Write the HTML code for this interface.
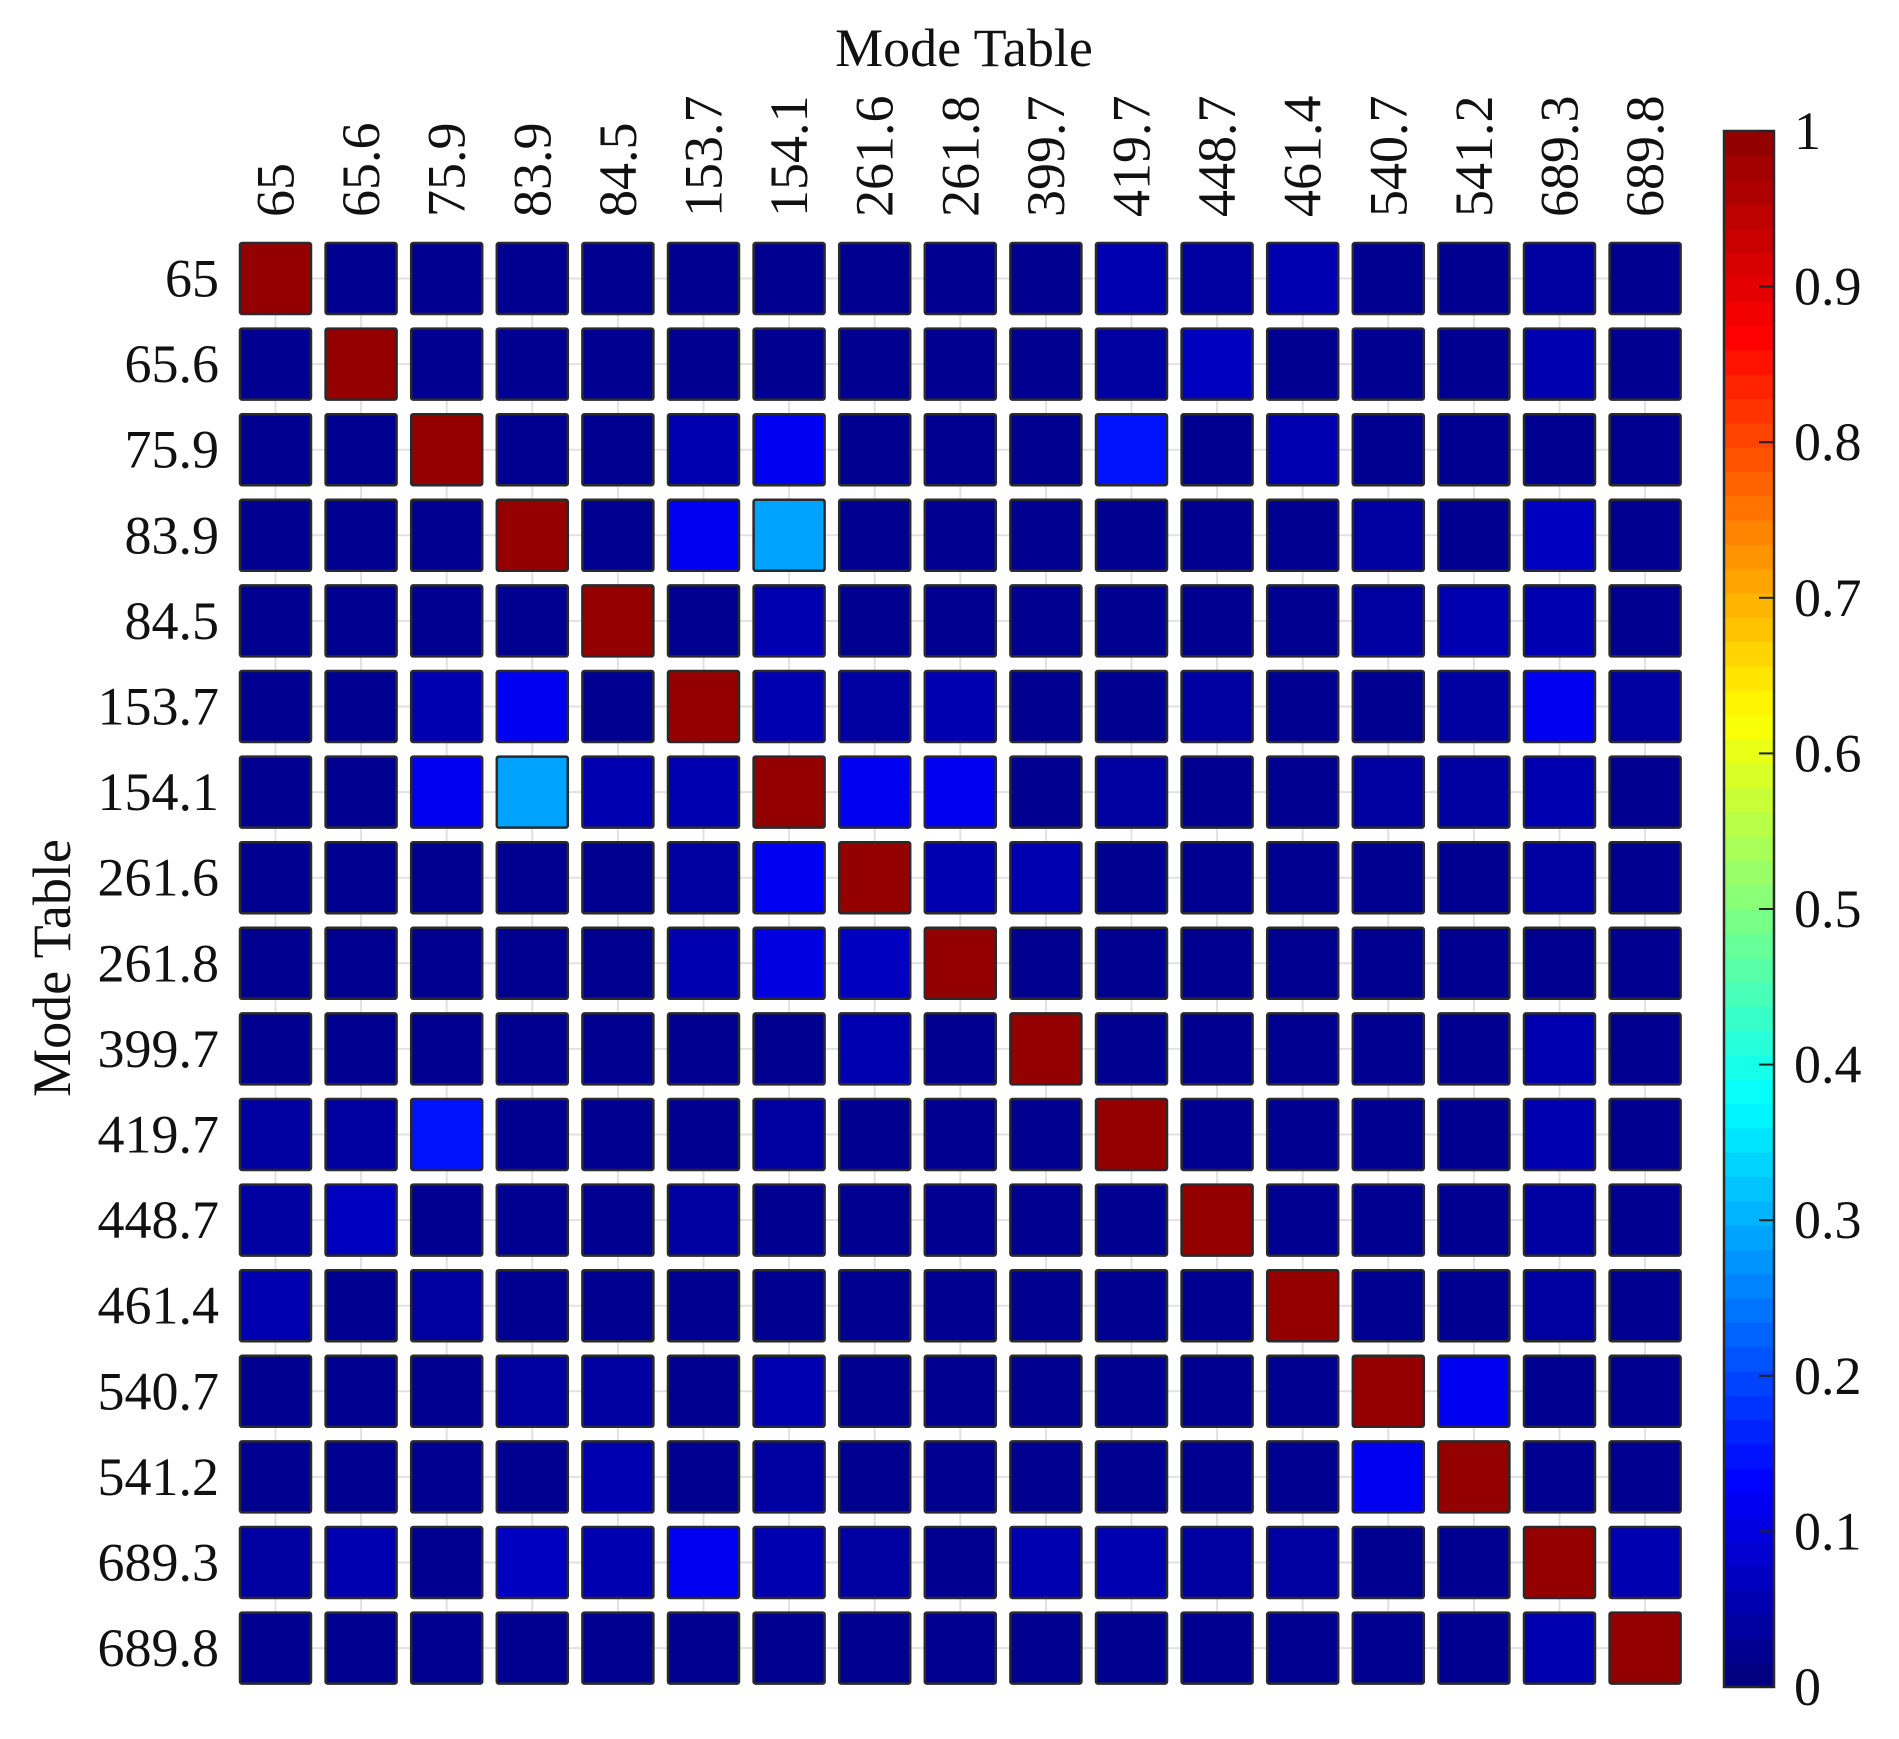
<!DOCTYPE html>
<html><head><meta charset="utf-8"><style>
html,body{margin:0;padding:0;background:#fff;}
svg{display:block;font-family:"Liberation Serif",serif;}
</style></head><body>
<svg id="chart" width="1899" height="1739" viewBox="0 0 1899 1739" xmlns="http://www.w3.org/2000/svg">
<text x="964" y="66" font-size="54" text-anchor="middle" fill="#111">Mode Table</text>
<text x="0" y="0" font-size="54" text-anchor="middle" fill="#111" transform="translate(70,968) rotate(-90)">Mode Table</text>
<g id="grid"></g>
<g id="cells"></g>
<g id="xlabels"></g>
<g id="ylabels"></g>
<g id="cbar"></g>
</svg>
<script>
const categories = ["65","65.6","75.9","83.9","84.5","153.7","154.1","261.6","261.8","399.7","419.7","448.7","461.4","540.7","541.2","689.3","689.8"];
const row0 = [1,.02,.02,.02,.02,.02,.02,.02,.02,.02,.05,.04,.05,.02,.02,.04,.02];
const row1 = [.02,1,.02,.02,.02,.02,.02,.02,.02,.02,.04,.07,.02,.02,.02,.06,.02];
const row2 = [.02,.02,1,.02,.02,.05,.11,.02,.02,.02,.15,.02,.05,.02,.02,.02,.02];
const row3 = [.02,.02,.02,1,.02,.12,.29,.02,.02,.02,.02,.02,.02,.04,.02,.07,.02];
const row4 = [.02,.02,.02,.02,1,.02,.06,.02,.02,.02,.02,.02,.02,.04,.06,.06,.02];
const row5 = [.02,.02,.05,.11,.02,1,.05,.04,.06,.02,.02,.04,.02,.02,.04,.12,.04];
const row6 = [.02,.02,.11,.29,.05,.05,1,.12,.11,.02,.04,.02,.02,.04,.04,.05,.02];
const row7 = [.02,.02,.02,.02,.02,.04,.12,1,.06,.05,.02,.02,.02,.02,.02,.04,.03];
const row8 = [.02,.02,.02,.02,.02,.05,.10,.07,1,.02,.02,.02,.02,.02,.02,.02,.02];
const row9 = [.02,.02,.02,.02,.02,.02,.02,.05,.02,1,.02,.02,.02,.02,.02,.06,.02];
const row10 = [.04,.04,.15,.02,.02,.02,.04,.02,.02,.02,1,.02,.02,.02,.02,.05,.02];
const row11 = [.04,.07,.02,.02,.02,.04,.02,.02,.02,.02,.02,1,.02,.02,.02,.04,.02];
const row12 = [.05,.02,.04,.02,.02,.02,.02,.02,.02,.02,.02,.02,1,.02,.02,.04,.02];
const row13 = [.02,.02,.03,.04,.04,.02,.05,.02,.02,.02,.03,.02,.02,1,.12,.02,.02];
const row14 = [.02,.02,.02,.02,.05,.03,.04,.02,.02,.02,.02,.02,.02,.11,1,.02,.02];
const row15 = [.04,.06,.02,.07,.05,.12,.05,.04,.02,.06,.05,.04,.04,.03,.02,1,.05];
const row16 = [.02,.02,.02,.02,.02,.03,.02,.02,.02,.02,.02,.02,.02,.02,.02,.06,1];
const matrix = [row0,row1,row2,row3,row4,row5,row6,row7,row8,row9,row10,row11,row12,row13,row14,row15,row16];
const cbarTicks = [0,0.1,0.2,0.3,0.4,0.5,0.6,0.7,0.8,0.9,1];
const cbarTickLabels = ["0","0.1","0.2","0.3","0.4","0.5","0.6","0.7","0.8","0.9","1"];

const NS = "http://www.w3.org/2000/svg";
const x0 = 240, y0 = 243, pitch = 85.6, cs = 71;
const xPos = i => x0 + i * pitch;
const yPos = i => y0 + i * pitch;
const cbTop = 131, cbBot = 1687, cbL = 1724, cbR = 1774;
const cbY = v => cbBot - v * (cbBot - cbTop);
function clamp(v){return Math.max(0,Math.min(1,v));}
function jet(v){
  const q = Math.min(63, Math.floor(clamp(v) * 64)) / 63;
  let r = clamp(1.5 - Math.abs(4*q - 3)), g = clamp(1.5 - Math.abs(4*q - 2)), b = clamp(1.5 - Math.abs(4*q - 1));
  if (q > 0.875) r = 0.58 + (r - 0.5) * (0.42/0.5);
  return `rgb(${Math.round(r*255)},${Math.round(g*255)},${Math.round(b*255)})`;
}
function mk(tag, attrs, parent){
  const e = document.createElementNS(NS, tag);
  for (const k in attrs) e.setAttribute(k, attrs[k]);
  parent.appendChild(e);
  return e;
}
const n = categories.length;
const grid = document.getElementById('grid');
for (let i = 0; i < n; i++) {
  const c = xPos(i) + cs/2;
  const l1 = mk('line', {x1:c, x2:c, y1:y0, y2:yPos(n-1)+cs, stroke:'#e2e2e2', 'stroke-width':2}, grid);
  
  
  const r = yPos(i) + cs/2;
  const l2 = mk('line', {x1:x0, x2:xPos(n-1)+cs, y1:r, y2:r, stroke:'#e2e2e2', 'stroke-width':2}, grid);
  
  
}
const cells = document.getElementById('cells');
for (let r = 0; r < n; r++) for (let c = 0; c < n; c++) {
  const rect = mk('rect', {x:xPos(c), y:yPos(r), width:cs, height:cs, rx:2, fill:jet(matrix[r][c]), stroke:'#2a2a2a', 'stroke-width':2.5}, cells);
  
  
}
const xl = document.getElementById('xlabels');
const yl = document.getElementById('ylabels');
for (let i = 0; i < n; i++) {
  const cx = xPos(i) + cs/2 + 18;
  const t = mk('text', {x:0, y:0, 'font-size':54, 'text-anchor':'start', fill:'#111', transform:`translate(${cx},${217}) rotate(-90)`}, xl);
  t.textContent = categories[i];
  
  
  const t2 = mk('text', {x:219, y:yPos(i) + cs/2 + 18, 'font-size':54, 'text-anchor':'end', fill:'#111'}, yl);
  t2.textContent = categories[i];
  
  
}
const cb = document.getElementById('cbar');
for (let k = 0; k < 64; k++) {
  const v0 = k/64, v1 = (k+1)/64;
  const s = mk('rect', {x:cbL, y:cbY(v1), width:cbR-cbL, height:cbY(v0)-cbY(v1)+0.6, fill:jet((k+0.5)/64)}, cb);
  
  
}
const frame = mk('rect', {x:cbL, y:cbTop, width:cbR-cbL, height:cbBot-cbTop, fill:'none', stroke:'#2a2a2a', 'stroke-width':2.5}, cb);


for (let k = 0; k < cbarTicks.length; k++) {
  const y = cbY(cbarTicks[k]);
  const tk = mk('line', {x1:cbR-15, x2:cbR, y1:y, y2:y, stroke:'#222', 'stroke-width':2}, cb);
  
  
  const lb = mk('text', {x:cbR+20, y:y+18, 'font-size':54, fill:'#111'}, cb);
  lb.textContent = cbarTickLabels[k];
  
  
}
</script>
</body></html>
